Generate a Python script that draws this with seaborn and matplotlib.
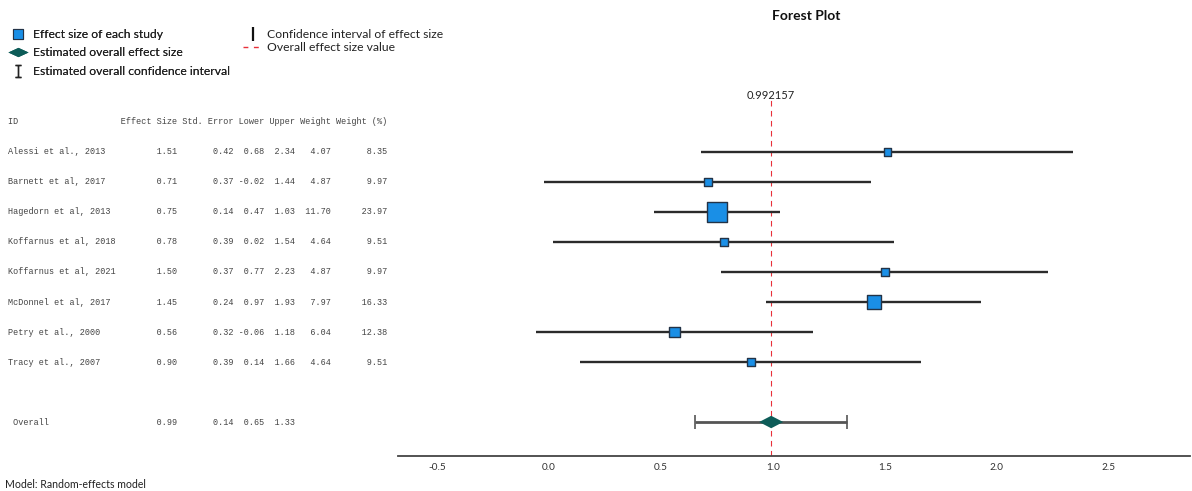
import matplotlib
matplotlib.use("Agg")
import matplotlib.pyplot as plt
import matplotlib.transforms as mtransforms
from matplotlib.lines import Line2D
from matplotlib.path import Path
import seaborn as sns
import pandas as pd
import numpy as np

# ============================================================
# DATA
# ============================================================
study_ids = ["Alessi et al., 2013", "Barnett et al, 2017", "Hagedorn et al, 2013",
             "Koffarnus et al, 2018", "Koffarnus et al, 2021", "McDonnel et al, 2017",
             "Petry et al., 2000", "Tracy et al., 2007"]
effect_size = [1.51, 0.71, 0.75, 0.78, 1.50, 1.45, 0.56, 0.90]
std_error = [0.42, 0.37, 0.14, 0.39, 0.37, 0.24, 0.32, 0.39]
lower = [0.68, -0.02, 0.47, 0.02, 0.77, 0.97, -0.06, 0.14]
upper = [2.34, 1.44, 1.03, 1.54, 2.23, 1.93, 1.18, 1.66]
weight = [4.07, 4.87, 11.70, 4.64, 4.87, 7.97, 6.04, 4.64]
weight_pct = [8.35, 9.97, 23.97, 9.51, 9.97, 16.33, 12.38, 9.51]

overall_es = 0.99
overall_se = 0.14
overall_lower = 0.65
overall_upper = 1.33
overall_value = 0.992157

x_ticks = [-0.5, 0.0, 0.5, 1.0, 1.5, 2.0, 2.5]

BLUE = "#1a8fe6"
TEAL = "#0d5c58"
RED = "#e8313a"

df = pd.DataFrame({"id": study_ids, "es": effect_size, "se": std_error,
                   "lower": lower, "upper": upper, "w": weight, "wp": weight_pct})
df["row"] = np.arange(len(df))
overall_row = len(df) + 1

# ============================================================
# FIGURE
# ============================================================
sns.set_style("white")
plt.rcParams["font.family"] = ["Lato", "DejaVu Sans"]

W, H = 1192, 491
fig = plt.figure(figsize=(W / 100, H / 100), dpi=100)
ax = fig.add_axes([398 / W, 35 / H, 792 / W, 356 / H])

# confidence intervals of each study
ax.hlines(df["row"], df["lower"], df["upper"], color="#2b2b2b", lw=1.7, zorder=2)

# squares, side proportional to weight (%)
sides_pt = df["wp"] * 0.85 * 0.72
sns.scatterplot(data=df, x="es", y="row", marker="s", s=sides_pt ** 2,
                color=BLUE, edgecolor="#233347", linewidth=1, zorder=3, ax=ax,
                legend=False)

# overall estimate
ax.errorbar(overall_es, overall_row,
            xerr=[[overall_es - overall_lower], [overall_upper - overall_es]],
            fmt="none", ecolor="#555555", elinewidth=2, capsize=5, capthick=1.2, zorder=2)
diamond = Path([(-0.5, 0), (0, 0.26), (0.5, 0), (0, -0.26), (-0.5, 0)])
ax.scatter([overall_value], [overall_row], marker=diamond, s=(24 * 0.72) ** 2,
           color=TEAL, edgecolor="none", zorder=4)

ax.axvline(overall_value, color=RED, lw=0.8, dashes=(5, 4), zorder=1)
ax.text(overall_value, -1.87, f"{overall_value:g}", ha="center", va="center",
        fontsize=8, color="#222222", clip_on=False)

ax.set_xlim(-0.674, 2.862)
ax.set_ylim(10.133, -1.733)
ax.set_xticks(x_ticks)
ax.set_xticklabels([f"{t:.1f}" for t in x_ticks])
ax.set_yticks([])
ax.set_xlabel("")
ax.set_ylabel("")
for s in ["top", "left", "right"]:
    ax.spines[s].set_visible(False)
ax.spines["bottom"].set_color("#444444")
ax.spines["bottom"].set_linewidth(1.3)
ax.tick_params(axis="x", length=0, pad=5, labelsize=7.2, labelcolor="#333333")
fig.text(806 / W, 1 - 16 / H, "Forest Plot", fontsize=10, fontweight="bold",
         ha="center", va="center", color="#111111")

# ============================================================
# TABLE (monospace, rows aligned with plot rows)
# ============================================================
trans = mtransforms.blended_transform_factory(fig.transFigure, ax.transData)
mono = dict(family="Liberation Mono", fontsize=6.17, color="#444444", va="center",
            transform=trans, clip_on=False)
header = f"{'ID':<22}{'Effect Size':>11} {'Std. Error':>10} {'Lower':>5} {'Upper':>5} {'Weight':>6} {'Weight (%)':>10}"
ax.text(8 / W, -1.03, header, **mono)
for r in df.itertuples():
    line = f"{r.id:<22}{r.es:>11.2f} {r.se:>10.2f} {r.lower:>5.2f} {r.upper:>5.2f} {r.w:>6.2f} {r.wp:>10.2f}"
    ax.text(8 / W, r.row, line, **mono)
line = f"{' Overall':<22}{overall_es:>11.2f} {overall_se:>10.2f} {overall_lower:>5.2f} {overall_upper:>5.2f}"
ax.text(8 / W, overall_row, line, **mono)

fig.text(5 / W, 1 - 484 / H, "Model: Random-effects model", fontsize=7.6,
         color="#222222", va="center")

# ============================================================
# LEGEND
# ============================================================
ibeam = Path([(-0.25, 0.5), (0.25, 0.5), (0, 0.5), (0, -0.5), (-0.25, -0.5), (0.25, -0.5)],
             [Path.MOVETO, Path.LINETO, Path.MOVETO, Path.LINETO, Path.MOVETO, Path.LINETO])
h1 = [Line2D([], [], ls="none", marker="s", ms=7.3, mfc=BLUE, mec="#233347", mew=0.8),
      Line2D([], [], ls="none", marker=Path([(-0.5, 0), (0, 0.23), (0.5, 0), (0, -0.23), (-0.5, 0)]),
             ms=14.5, mfc=TEAL, mec="none"),
      Line2D([], [], ls="none", marker=ibeam, ms=9, mfc="none", mec="#222222", mew=1)]
l1 = fig.legend(h1, ["Effect size of each study", "Estimated overall effect size",
                     "Estimated overall confidence interval"],
                loc="upper left", bbox_to_anchor=(7 / W, 1 - 29 / H), frameon=False,
                fontsize=8.7, borderpad=0, borderaxespad=0, handlelength=1.8,
                handletextpad=0.35, labelspacing=0.62, labelcolor="#222222")
h2 = [Line2D([], [], ls="none", marker="|", ms=10, mec="#111111", mew=1.6),
      Line2D([], [], color=RED, lw=1, dashes=(3.5, 4))]
fig.legend(h2, ["Confidence interval of effect size", "Overall effect size value"],
           loc="upper left", bbox_to_anchor=(243 / W, 1 - 29 / H), frameon=False,
           fontsize=8.7, borderpad=0, borderaxespad=0, handlelength=1.6,
           handletextpad=0.35, labelspacing=0.15, labelcolor="#222222")
fig.add_artist(l1)

fig.savefig("out.png", dpi=100)
plt.close(fig)
